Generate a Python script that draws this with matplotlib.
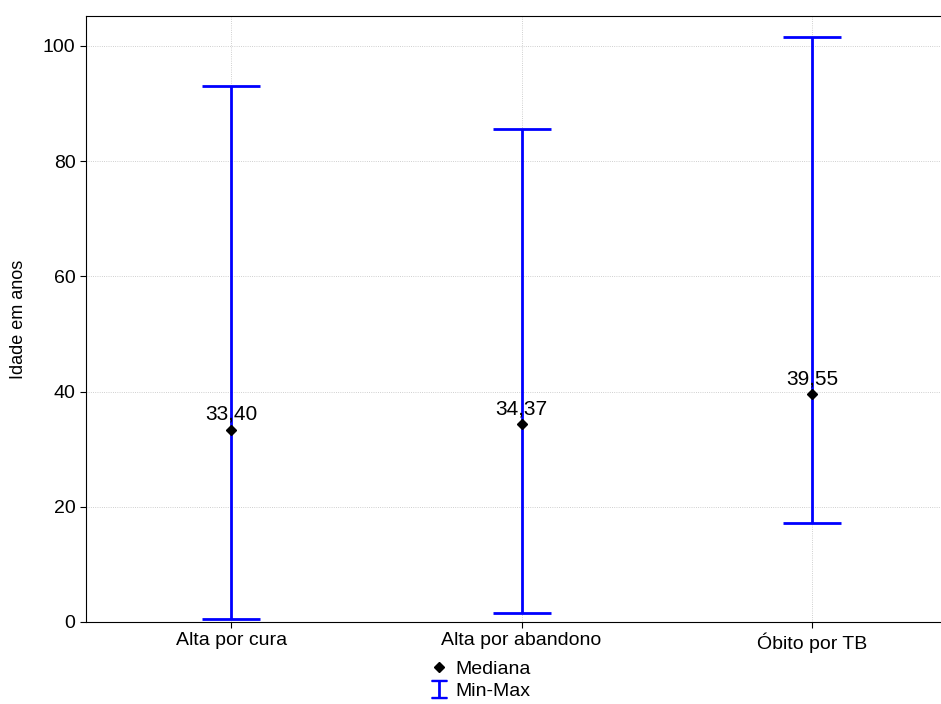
import matplotlib
matplotlib.use("Agg")
import matplotlib.pyplot as plt
from matplotlib.lines import Line2D

categorias = ["Alta por cura", "Alta por abandono", "Óbito por TB"]
mediana = [33.40, 34.37, 39.55]
minimo = [0.5, 1.5, 17.2]
maximo = [93.1, 85.5, 101.5]
rotulos = ["33,40", "34,37", "39,55"]

plt.rcParams['font.family'] = ['Liberation Sans', 'DejaVu Sans']

fig = plt.figure(figsize=(9.41, 7.04), dpi=100)
ax = fig.add_axes([86/941, 1-622/704, 871/941, (622-16)/704])

x = list(range(len(categorias)))
for i in x:
    meio = (minimo[i] + maximo[i]) / 2
    d = (maximo[i] - minimo[i]) / 2
    ax.errorbar(i, meio, yerr=[[d], [d]], fmt='none', ecolor='#0000ff',
                elinewidth=2, capsize=21, capthick=2, zorder=3)
ax.plot(x, mediana, 'D', color='black', markersize=5.5, zorder=4)
for i in x:
    ax.text(i, mediana[i] + 1.0, rotulos[i], ha='center', va='bottom', fontsize=15, zorder=5)

ax.set_xlim(-0.5, 2.5)
ax.set_ylim(0, 105.2)
ax.set_xticks(x)
ax.set_xticklabels(categorias, fontsize=14)
ax.set_yticks([0, 20, 40, 60, 80, 100])
ax.tick_params(axis='y', labelsize=14, direction='out', length=4)
ax.tick_params(axis='x', direction='out', length=4)
ax.grid(True, linestyle=':', color='#c0c0c0', linewidth=0.6)
ax.set_axisbelow(True)
ax.spines['right'].set_visible(False)
ax.set_ylabel("Idade em anos", fontsize=13)
ax.yaxis.set_label_coords(-0.068, 0.5)

h1 = Line2D([], [], marker='D', color='black', linestyle='none', markersize=5.5)
h2 = Line2D([], [], marker='$\u2336$', color='#0000ff', linestyle='none', markersize=13)
fig.legend([h1, h2], ["Mediana", "Min-Max"], loc='center', bbox_to_anchor=(480/941, 1-680/704),
           frameon=False, fontsize=14, handlelength=1.0, handletextpad=0.3, labelspacing=0.2,
           borderpad=0)

fig.savefig("out.png", dpi=100)
